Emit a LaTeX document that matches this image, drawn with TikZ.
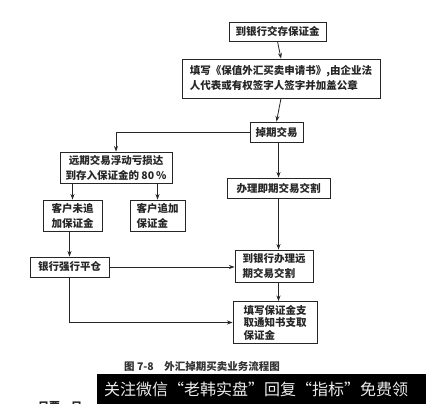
\documentclass[tikz,border=0pt]{standalone}
\usepackage{fontspec}
\newfontfamily\cjk{Noto Sans CJK SC}
\usetikzlibrary{arrows.meta}
\tikzset{
  box/.style={draw=black!85, line width=0.9pt, inner sep=0pt, font=\cjk\bfseries\fontsize{10.5}{15}\selectfont, text=black!85},
  arr/.style={draw=black!85, line width=0.8pt, -{Stealth[length=5.5pt,width=4pt]}},
}
\begin{document}
\begin{tikzpicture}[x=1pt,y=-1pt]
\useasboundingbox (0,0) rectangle (426,404);
\fill[white] (0,0) rectangle (426,404);
\node[box, minimum width=97pt, minimum height=19pt] (b1) at (277.5,31.5) {到银行交存保证金};
\node[box, minimum width=198pt, minimum height=39pt, align=left] (b2) at (281,78.5) {填写《保值外汇买卖申请书》,由企业法\\人代表或有权签字人签字并加盖公章};
\node[box, minimum width=53pt, minimum height=20pt] (b3) at (276.5,132) {掉期交易};
\node[box, minimum width=112pt, minimum height=31pt, align=center] (b4) at (116,167.5) {远期交易浮动亏损达\\到存入保证金的 80\,\%};
\node[box, minimum width=103pt, minimum height=20pt] (b5) at (278.5,188) {办理即期交易交割};
\node[box, minimum width=59pt, minimum height=31pt, align=center] (b6) at (72.5,215.5) {客户未追\\加保证金};
\node[box, minimum width=55pt, minimum height=31pt, align=left] (b7) at (157.5,215.5) {客户追加\\保证金};
\node[box, minimum width=79pt, minimum height=20pt] (b8) at (69.5,267) {银行强行平仓};
\node[box, minimum width=78pt, minimum height=32pt, align=left] (b9) at (274,266) {到银行办理远\\期交易交割};
\node[box, minimum width=84pt, minimum height=42pt, align=left, font=\cjk\bfseries\fontsize{10.5}{12.5}\selectfont] (b10) at (275,322.5) {填写保证金支\\取通知书支取\\保证金};

\draw[arr] (b1.south) -- (b2.north);
\draw[arr] (b2.south) -- (b3.north);
\draw[arr] (b3.west) -| (b4.north);
\draw[arr] (b3.south) -- (b5.north |- b3.south) -- (b5.north);
\draw[arr] (b6.north |- b4.south) -- (b6.north);
\draw[arr] (b7.north |- b4.south) -- (b7.north);
\draw[arr] (b6.south -| b8.north) -- (b8.north);
\draw[arr] (b5.south) -- (b5.south |- b9.north);
\draw[arr] (b8.east) -- (b8.east -| b9.west);
\draw[arr] (b9.south -| b5.south) -- (b5.south |- b10.north);
\draw[arr] (b8.south) |- (b10.west);

\node[font=\cjk\bfseries\fontsize{10.5}{12}\selectfont, text=black!80] (cap) at (202,367) {图 7-8\quad 外汇掉期买卖业务流程图};
\fill[black] (97,374) rectangle (426,404);
\node[font=\cjk\fontsize{16}{18}\selectfont, text=black!8, anchor=west, inner sep=0pt] (wm) at (104,389) {关注微信“老韩实盘”回复“指标”免费领};
\begin{scope}
\clip (0,396) rectangle (97,404);
\node[font=\cjk\bfseries\fontsize{11}{12}\selectfont, text=black!85, anchor=west, inner sep=0pt] (tail) at (38,407) {只要，只};
\end{scope}
\end{tikzpicture}
\end{document}
